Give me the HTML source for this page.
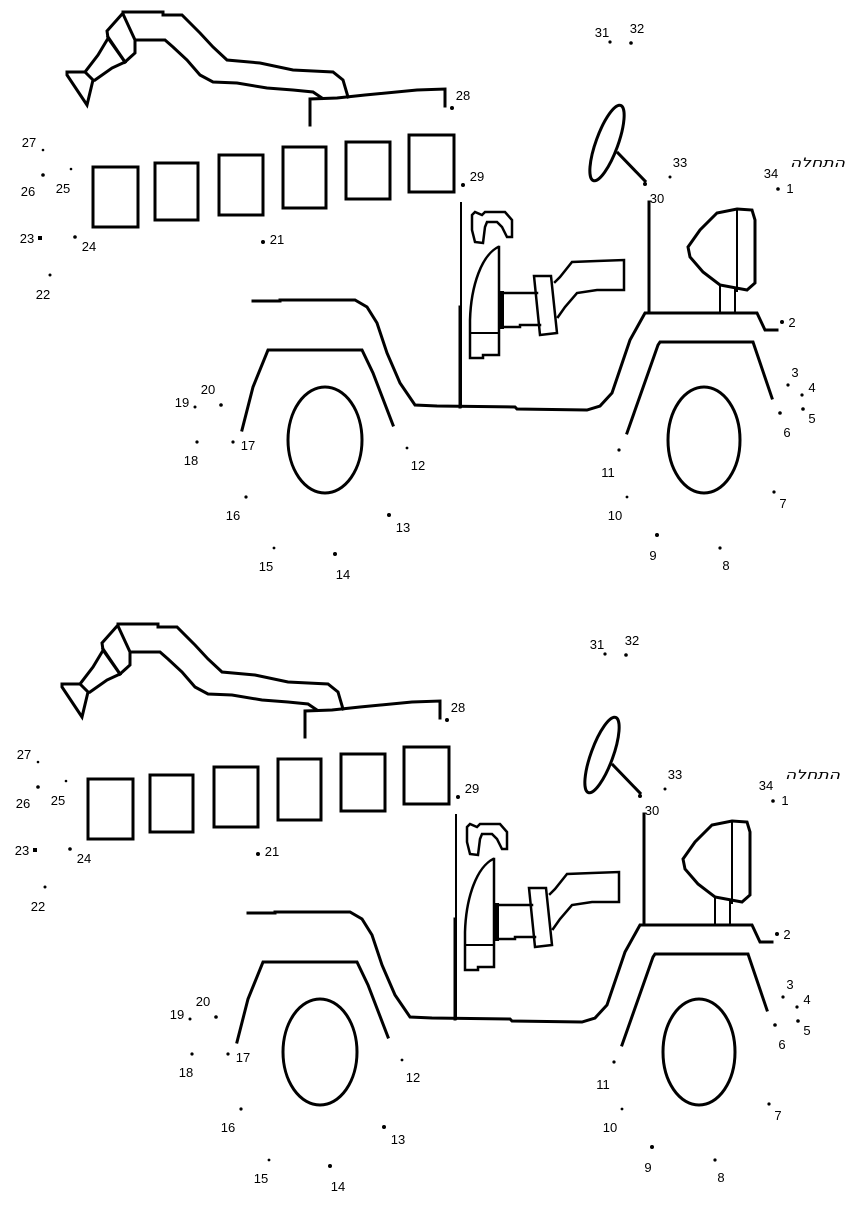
<!DOCTYPE html>
<html>
<head>
<meta charset="utf-8">
<style>
html,body{margin:0;padding:0;background:#fff;}
svg{display:block;}
text{font-family:"Liberation Sans","DejaVu Sans",sans-serif;font-size:13px;fill:#000;}
.heb{font-family:"DejaVu Sans","Liberation Sans",sans-serif;font-size:13px;font-style:italic;}
</style>
</head>
<body>
<svg width="868" height="1216" viewBox="0 0 868 1216" xmlns="http://www.w3.org/2000/svg">
<defs>
<g id="fig">
 <g fill="none" stroke="#000" stroke-width="3" stroke-linejoin="miter" stroke-linecap="square">
  <!-- crane -->
  <polyline points="123,12 163,12 163,15 182,15 200,33 213,47 227,60 260,63 293,70 333,72 343,80 348,97"/>
  <polyline points="135,40 165,40 173,47 187,60 200,75 213,82 237,83 267,88 293,90 313,92 322,98"/>
  <polyline points="123,13 107,31 108,38 125,62 135,53 135,40 123,14"/>
  <line x1="108" y1="37" x2="125" y2="62"/>
  <polyline points="107,40 98,55 85,72"/>
  <polyline points="125,62 112,68 95,80"/>
  <polygon points="67,72 85,72 93,80 87,105 67,75"/>
  <!-- roof -->
  <polyline points="310,125 310,99 337,98 365,95 417,90 445,89 445,106"/>
  <!-- windows -->
  <rect x="93" y="167" width="45" height="60"/>
  <rect x="155" y="163" width="43" height="57"/>
  <rect x="219" y="155" width="44" height="60"/>
  <rect x="283" y="147" width="43" height="61"/>
  <rect x="346" y="142" width="44" height="57"/>
  <rect x="409" y="135" width="45" height="57"/>
  <!-- body -->
  <polyline points="253,301 280,301 280,300 355,300 367,307 377,323 387,353 400,383 415,405 437,406 515,407 517,409 587,410 600,406 612,393 630,340 645,313 757,313 765,330 777,330"/>
  <polyline points="242,430 253,387 268,350 362,350 373,373 393,425"/>
  <polyline points="627,433 658,345 660,342 753,342 772,398"/>
  <ellipse cx="325" cy="440" rx="37" ry="53"/>
  <ellipse cx="704" cy="440" rx="36" ry="53"/>
  <!-- door / post -->
  <line x1="461" y1="203" x2="461" y2="407" stroke-width="2"/>
  <line x1="460" y1="307" x2="460" y2="407"/>
  <line x1="649" y1="202" x2="649" y2="313"/>
  <!-- steering -->
  <ellipse cx="607" cy="143" rx="11" ry="40" transform="rotate(20 607 143)"/>
  <line x1="618" y1="153" x2="645" y2="181"/>
  <!-- hand -->
  <polygon points="472,215 475,212 482,215 485,212 505,212 512,220 512,237 507,237 502,227 497,222 487,222 485,227 483,243 475,242 472,230" stroke-width="2.5"/>
  <!-- seat back -->
  <path d="M498,247 C482,255 471,285 470,320 L470,358 L483,358 L483,355 L499,355 L499,247" stroke-width="2.5"/>
  <line x1="470" y1="333" x2="499" y2="333" stroke-width="2"/>
  <polyline points="537,293 502,293 502,327 520,327 520,325 540,325" stroke-width="2.5"/>
  <line x1="502" y1="293" x2="502" y2="327" stroke-width="4"/>
  <polygon points="534,276 551,276 557,333 540,335" stroke-width="2.5"/>
  <polyline points="555,282 560,277 572,262 597,261 624,260 624,290 597,290 577,293 565,307 558,317" stroke-width="2.5"/>
  <!-- right seat -->
  <path d="M737,209 L752,210 L755,220 L755,283 L747,290 L720,285 L703,272 L690,257 L688,247 L700,230 L717,213 Z"/>
  <line x1="737" y1="209" x2="737" y2="291" stroke-width="2"/>
  <line x1="720" y1="285" x2="720" y2="313" stroke-width="2"/>
  <line x1="735" y1="290" x2="735" y2="313" stroke-width="2"/>
 </g>
 <g fill="#000">
  <circle cx="778" cy="189" r="1.8"/>
  <circle cx="782" cy="322" r="2"/>
  <circle cx="788" cy="385" r="1.6"/>
  <circle cx="802" cy="395" r="1.6"/>
  <circle cx="803" cy="409" r="1.8"/>
  <circle cx="780" cy="413" r="1.8"/>
  <circle cx="774" cy="492" r="1.6"/>
  <circle cx="720" cy="548" r="1.6"/>
  <circle cx="657" cy="535" r="2"/>
  <circle cx="627" cy="497" r="1.4"/>
  <circle cx="619" cy="450" r="1.6"/>
  <circle cx="407" cy="448" r="1.4"/>
  <circle cx="389" cy="515" r="2"/>
  <circle cx="335" cy="554" r="2"/>
  <circle cx="274" cy="548" r="1.4"/>
  <circle cx="246" cy="497" r="1.6"/>
  <circle cx="233" cy="442" r="1.6"/>
  <circle cx="197" cy="442" r="1.6"/>
  <circle cx="195" cy="407" r="1.5"/>
  <circle cx="221" cy="405" r="1.8"/>
  <circle cx="263" cy="242" r="2"/>
  <circle cx="50" cy="275" r="1.5"/>
  <rect x="38" y="236" width="4" height="4"/>
  <circle cx="75" cy="237" r="1.8"/>
  <circle cx="71" cy="169" r="1.3"/>
  <circle cx="43" cy="175" r="1.8"/>
  <circle cx="43" cy="150" r="1.3"/>
  <circle cx="452" cy="108" r="2"/>
  <circle cx="463" cy="185" r="2"/>
  <circle cx="645" cy="184" r="2"/>
  <circle cx="610" cy="42" r="1.6"/>
  <circle cx="631" cy="43" r="1.8"/>
  <circle cx="670" cy="177" r="1.5"/>
 </g>
 <g text-anchor="middle">
  <text x="790" y="193">1</text>
  <text x="792" y="327">2</text>
  <text x="795" y="377">3</text>
  <text x="812" y="392">4</text>
  <text x="812" y="423">5</text>
  <text x="787" y="437">6</text>
  <text x="783" y="508">7</text>
  <text x="726" y="570">8</text>
  <text x="653" y="560">9</text>
  <text x="615" y="520">10</text>
  <text x="608" y="477">11</text>
  <text x="418" y="470">12</text>
  <text x="403" y="532">13</text>
  <text x="343" y="579">14</text>
  <text x="266" y="571">15</text>
  <text x="233" y="520">16</text>
  <text x="248" y="450">17</text>
  <text x="191" y="465">18</text>
  <text x="182" y="407">19</text>
  <text x="208" y="394">20</text>
  <text x="277" y="244">21</text>
  <text x="43" y="299">22</text>
  <text x="27" y="243">23</text>
  <text x="89" y="251">24</text>
  <text x="63" y="193">25</text>
  <text x="28" y="196">26</text>
  <text x="29" y="147">27</text>
  <text x="463" y="100">28</text>
  <text x="477" y="181">29</text>
  <text x="657" y="203">30</text>
  <text x="602" y="37">31</text>
  <text x="637" y="33">32</text>
  <text x="680" y="167">33</text>
  <text x="771" y="178">34</text>
 </g>
 <text class="heb" x="790" y="167" textLength="55" lengthAdjust="spacingAndGlyphs">התחלה</text>
</g>
</defs>
<rect width="868" height="1216" fill="#fff"/>
<use href="#fig"/>
<use href="#fig" transform="translate(-5,612)"/>
</svg>
</body>
</html>
